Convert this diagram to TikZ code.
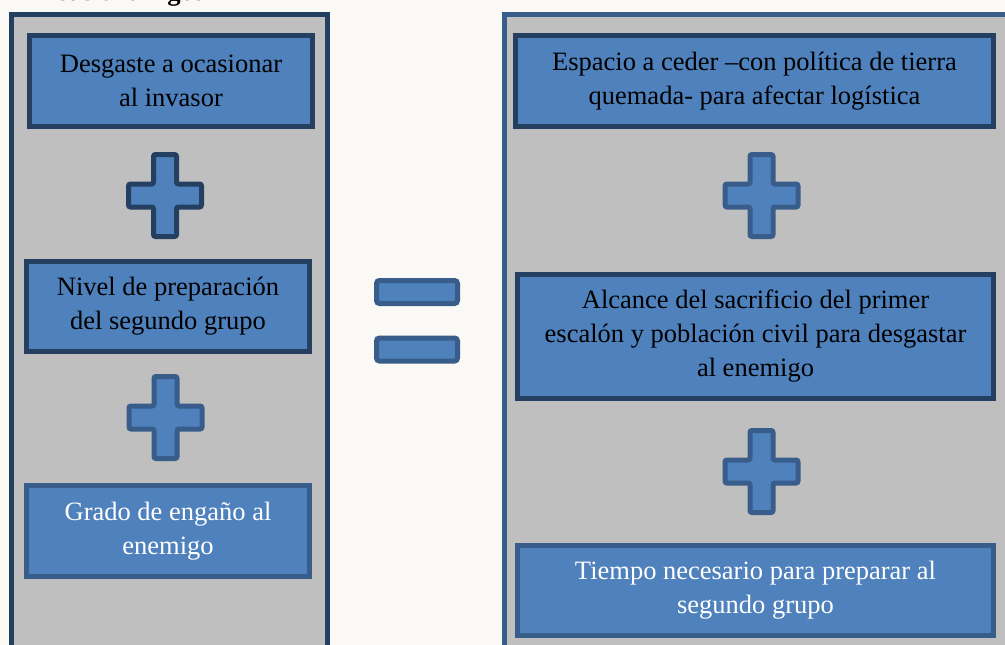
\documentclass[tikz,border=0pt]{standalone}
\usepackage{fontspec}
\setmainfont{Liberation Serif}
\definecolor{bgc}{HTML}{FAF9F5}
\definecolor{panelfill}{HTML}{BFBFBF}
\definecolor{boxfill}{HTML}{4F81BD}
\definecolor{darkb}{HTML}{243F60}
\definecolor{lightb}{HTML}{385D8A}
\tikzset{
  txt/.style={font=\fontsize{26.5}{34}\selectfont, align=center},
  boxnode/.style={txt, draw=#1, fill=boxfill, line width=5pt, inner sep=0pt},
  panel/.style={draw=#1, fill=panelfill, line width=5pt},
  eqbar/.style={draw=lightb, fill=boxfill, line width=5pt, rounded corners=3pt, minimum width=81pt, minimum height=23pt, inner sep=0pt},
  pics/plussign/.style={code={
    \draw[draw=#1, fill=boxfill, line width=5pt, rounded corners=2pt]
      (-11.5,-41) -- (11.5,-41) -- (11.5,-11.5) -- (36.5,-11.5) -- (36.5,11.5)
      -- (11.5,11.5) -- (11.5,41) -- (-11.5,41) -- (-11.5,11.5) -- (-36.5,11.5)
      -- (-36.5,-11.5) -- (-11.5,-11.5) -- cycle;
  }}
}
\begin{document}
\begin{tikzpicture}[x=1pt,y=-1pt]
\useasboundingbox (0,0) rectangle (1005,645);
\clip (0,0) rectangle (1005,645);
\fill[bgc] (0,0) rectangle (1005,645);
% cut-off title
\node[anchor=base, font=\fontsize{26.5}{34}\selectfont\bfseries, inner sep=0pt] (title) at (131,1) {sus enemigos};
% panels
\draw[panel=darkb] (11.5,14.5) rectangle (327.5,700);
\draw[panel=lightb] (504.5,14.5) rectangle (1100,700);
% left column
\node[boxnode=darkb, minimum width=283pt, minimum height=91pt] (b1) at (171,81) {Desgaste a ocasionar\\al invasor};
\pic at (165,195.5) {plussign=darkb};
\node[boxnode=darkb, minimum width=283pt, minimum height=90pt] (b2) at (168,306.5) {Nivel de preparación\\del segundo grupo};
\pic at (165.5,417.5) {plussign=lightb};
\node[boxnode=lightb, text=white, minimum width=283pt, minimum height=91pt] (b3) at (168,531) {Grado de engaño al\\enemigo};
% equals sign
\node[eqbar] (eq1) at (417,292) {};
\node[eqbar] (eq2) at (417,349.5) {};
% right column
\node[boxnode=darkb, minimum width=478pt, minimum height=91pt] (r1) at (754.5,81) {Espacio a ceder –con política de tierra\\quemada- para afectar logística};
\pic at (761.5,195.5) {plussign=lightb};
\node[boxnode=darkb, minimum width=476pt, minimum height=124pt] (r2) at (755.5,336.5) {Alcance del sacrificio del primer\\escalón y población civil para desgastar\\al enemigo};
\pic at (761.5,471.5) {plussign=lightb};
\node[boxnode=lightb, text=white, minimum width=476pt, minimum height=90pt] (r3) at (755.5,590.5) {Tiempo necesario para preparar al\\segundo grupo};
\end{tikzpicture}
\end{document}
